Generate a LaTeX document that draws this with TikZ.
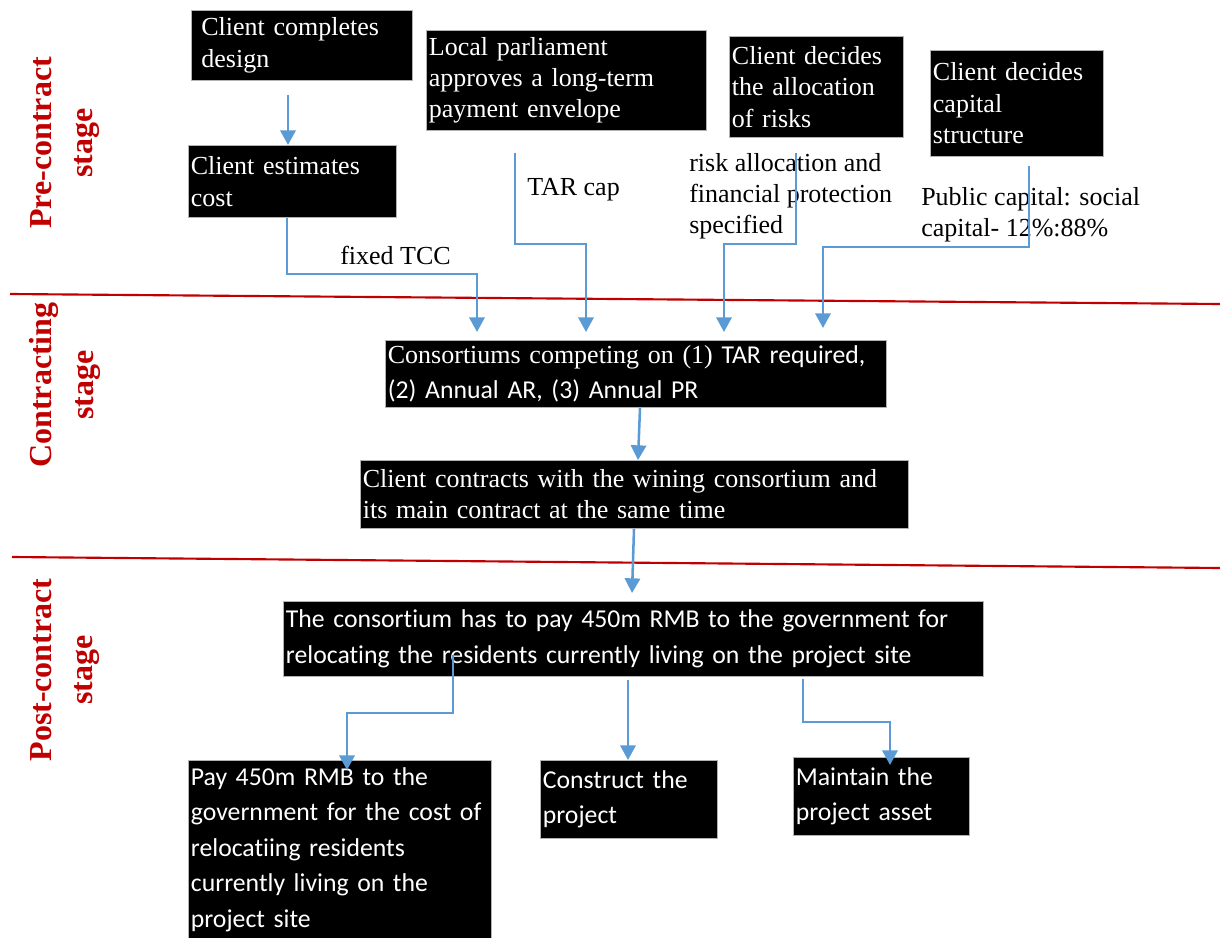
\documentclass[tikz,border=0pt]{standalone}
\usepackage{fontspec}
\setmainfont{Liberation Serif}
\newfontfamily\calfont[Ligatures=NoCommon]{Carlito}
\usetikzlibrary{arrows.meta}
\newdimen\px \px=0.75pt
\definecolor{arrblue}{HTML}{5B9BD5}
\definecolor{stagered}{HTML}{C00000}
\begin{document}
\begin{tikzpicture}[x=0.75pt,y=-0.75pt,
 box/.style={fill=black,draw=gray!60,line width=0.6pt,text=white,anchor=north west,align=left,inner xsep=2.5\px,inner ysep=0pt,font=\fontsize{19.5}{23.6}\selectfont},
 cbox/.style={box,font=\calfont\fontsize{19.3}{26.6}\selectfont},
 lbl/.style={anchor=west,align=left,inner sep=0pt,font=\fontsize{19.5}{23.3}\selectfont},
 arr/.style={draw=arrblue,line width=1.9pt,-{Triangle[width=11.5pt,length=11pt]}},
 stage/.style={rotate=90,text=stagered,font=\bfseries\fontsize{24}{31}\selectfont,align=center},
 sep/.style={draw=stagered,line width=1.6pt}]
\useasboundingbox (0,0) rectangle (1220,938);

% separators
\draw[sep] (10,294) -- (1220,304);
\draw[sep] (12,557) -- (1220,568);

% stage labels
\node[stage] (s1) at (65,143) {Pre-contract\\stage};
\node[stage] (s2) at (65,385) {Contracting\\stage};
\node[stage] (s3) at (65,670) {Post-contract\\stage};

% boxes
\node[box,minimum width=221\px,minimum height=70\px,text width=201\px,inner xsep=10\px,font=\fontsize{19.5}{24}\selectfont] (A) at (191,10) {Client completes\\design};
\node[box,minimum width=208\px,minimum height=72\px,text width=203\px,font=\fontsize{19.5}{24}\selectfont] (B) at (188,145) {Client estimates\\cost};
\node[box,minimum width=280\px,minimum height=100\px,text width=275\px,font=\fontsize{19.5}{23.3}\selectfont] (C) at (426,30) {Local parliament\\approves a long-term\\payment envelope};
\node[box,minimum width=174\px,minimum height=101\px,text width=169\px] (D) at (729,36) {Client decides\\the allocation\\of risks};
\node[box,minimum width=173\px,minimum height=106\px,text width=168\px] (E) at (930,50) {Client decides\\capital\\structure};
\node[box,minimum width=501\px,minimum height=67\px,text width=496\px,font=\fontsize{19.5}{26.3}\selectfont] (F) at (385,340) {Consortiums competing on (1) {\calfont\fontsize{19.3}{26.3}\selectfont TAR required,}\\{\calfont\fontsize{19.3}{26.3}\selectfont (2) Annual AR, (3) Annual PR}};
\node[box,minimum width=548\px,minimum height=68\px,text width=543\px,font=\fontsize{19.5}{23.3}\selectfont] (G) at (360,460) {Client contracts with the wining consortium and\\its main contract at the same time};
\node[cbox,minimum width=700\px,minimum height=75\px,text width=695\px] (H) at (283,601) {The consortium has to pay 450m RMB to the government for\\relocating the residents currently living on the project site};
\node[cbox,minimum width=303\px,minimum height=178\px,text width=298\px] (I) at (188,760) {Pay 450m RMB to the\\government for the cost of\\relocatiing residents\\currently living on the\\project site};
\node[cbox,minimum width=177\px,minimum height=78\px,text width=172\px] (J) at (540,760) {Construct the\\project};
\node[cbox,minimum width=176\px,minimum height=78\px,text width=171\px] (K) at (793,757) {Maintain the\\project asset};

% labels
\node[lbl] (l1) at (340,255) {fixed TCC};
\node[lbl] (l2) at (527,190) {TAR cap};
\node[lbl] (l3) at (689,196) {risk allocation and\\financial protection\\specified};
\node[lbl] (l4) at (921,215) {Public capital: social\\capital- 12\%:88\%};

% connectors
\coordinate (a1) at ([xshift=97\px,yshift=-14\px]A.south west);
\draw[arr] (a1) -- (a1 |- B.north);

\coordinate (b1) at ([xshift=99\px]B.south west);
\coordinate (f1) at ([xshift=92\px,yshift=8\px]F.north west);
\draw[arr] (b1) -- (b1 |- 0,274) -| (f1);

\coordinate (c1) at ([xshift=89\px,yshift=-22\px]C.south west);
\coordinate (f2) at ([xshift=201\px,yshift=8\px]F.north west);
\draw[arr] (c1) -- (c1 |- 0,244) -| (f2);

\coordinate (d1) at ([xshift=67\px,yshift=-15\px]D.south west);
\coordinate (f3) at ([xshift=339\px,yshift=8\px]F.north west);
\draw[arr] (d1) -- (d1 |- 0,244) -| (f3);

\coordinate (e1) at ([xshift=99\px,yshift=-9\px]E.south west);
\coordinate (f4) at ([xshift=438\px,yshift=12\px]F.north west);
\draw[arr] (e1) -- (e1 |- 0,247) -| (f4);

\draw[arr] ([xshift=255\px]F.south west) -- ([xshift=278\px]G.north west);
\draw[arr] ([xshift=274\px]G.south west) -- ([xshift=349\px,yshift=8\px]H.north west);

\coordinate (h1) at ([xshift=170\px,yshift=22\px]H.south west);
\coordinate (i1) at ([xshift=159\px,yshift=-10\px]I.north west);
\draw[arr] (h1) -- (h1 |- 0,713) -| (i1);

\draw[arr] ([xshift=345\px,yshift=-3\px]H.south west) -- ([xshift=88\px]J.north west);

\coordinate (h3) at ([xshift=520\px,yshift=-2\px]H.south west);
\coordinate (k1) at ([xshift=97\px,yshift=-8\px]K.north west);
\draw[arr] (h3) -- (h3 |- 0,722) -| (k1);
\end{tikzpicture}
\end{document}
